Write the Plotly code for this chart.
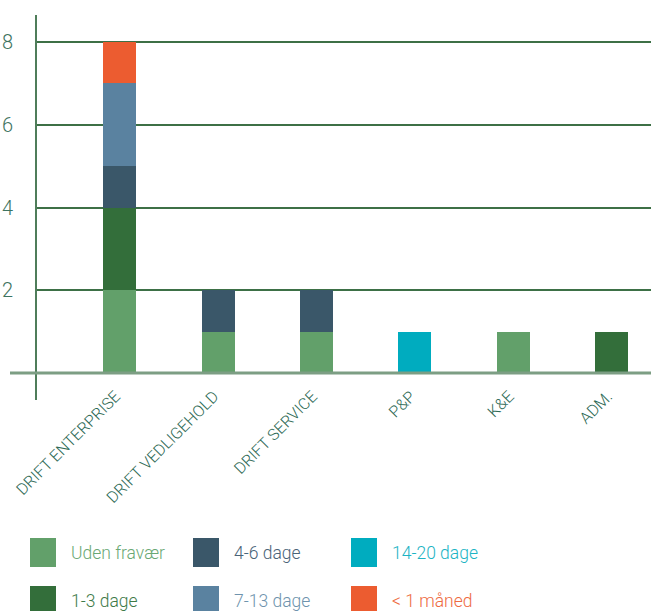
import plotly.graph_objects as go

categories = ["DRIFT ENTERPRISE", "DRIFT VEDLIGEHOLD", "DRIFT SERVICE", "P&P", "K&E", "ADM."]
series_names = ["Uden fravær", "1-3 dage", "4-6 dage", "7-13 dage", "14-20 dage", "< 1 måned"]
uden_fravaer = [2, 1, 1, 0, 1, 0]
dage_1_3 = [2, 0, 0, 0, 0, 1]
dage_4_6 = [1, 1, 1, 0, 0, 0]
dage_7_13 = [2, 0, 0, 0, 0, 0]
dage_14_20 = [0, 0, 0, 1, 0, 0]
under_1_maaned = [1, 0, 0, 0, 0, 0]
y_ticks = [2, 4, 6, 8]

series_values = [uden_fravaer, dage_1_3, dage_4_6, dage_7_13, dage_14_20, under_1_maaned]
colors = ["#62a06a", "#336e3a", "#3a5769", "#5a82a0", "#00acbf", "#ec5c30"]
text_colors = ["#6aa874", "#3e7a48", "#4a6378", "#6e93ad", "#1cb4c4", "#ee6a42"]

W, H = 651, 611
L, R, T, B = 37, 0, 15, 211
pw, ph = W - L - R, H - T - B

def px_x(x):
    return (x - L) / pw

def px_y(y):
    return (H - B - y) / ph

FONT = "Roboto, Lato, sans-serif"

fig = go.Figure()
for name, vals, col in zip(series_names, series_values, colors):
    fig.add_trace(go.Bar(
        x=categories, y=vals, name=name, marker=dict(color=col, line=dict(width=0)),
        width=0.335, showlegend=False,
    ))

shapes = []
annotations = []
# zero line extending beyond the axis
shapes.append(dict(type="line", xref="paper", yref="y", x0=px_x(10), x1=1, y0=0, y1=0,
                   line=dict(color="#7d9e84", width=3), layer="above"))

# manual legend (2 rows x 3 columns)
legend_order = [0, 2, 4, 1, 3, 5]
col_sq_x = [30, 193, 351]
col_tx_x = [69, 232, 390]
row_sq_y = [538, 586]
for k, idx in enumerate(legend_order):
    r, c = divmod(k, 3)
    x0 = col_sq_x[c]
    y0 = row_sq_y[r]
    shapes.append(dict(type="rect", xref="paper", yref="paper",
                       x0=px_x(x0), x1=px_x(x0 + 26), y0=px_y(y0), y1=px_y(y0 + 29),
                       fillcolor=colors[idx], line=dict(width=0)))
    annotations.append(dict(xref="paper", yref="paper", x=px_x(col_tx_x[c]), y=px_y(y0 + 14.5),
                            xanchor="left", yanchor="middle", showarrow=False,
                            text=series_names[idx],
                            font=dict(family=FONT, size=17.5, weight=300, color=text_colors[idx])))

fig.update_layout(
    template="none",
    barmode="stack",
    width=W, height=H,
    margin=dict(l=L, r=R, t=T, b=B, pad=0, autoexpand=False),
    paper_bgcolor="white", plot_bgcolor="white",
    bargap=0,
    shapes=shapes, annotations=annotations,
    showlegend=False,
    xaxis=dict(type="category", range=[-0.84, 5.40], showgrid=False, showline=False,
               zeroline=False, tickangle=-45, ticks="", automargin=False,
               ticklabelstandoff=-17, ticklabelshift=-4,
               tickfont=dict(family=FONT, size=16, weight=300, color="#2e6a55")),
    yaxis=dict(range=[-0.65, 8.65], tickvals=y_ticks, showgrid=True,
               gridcolor="#3d7046", gridwidth=1.5, zeroline=False,
               showline=True, linecolor="#4f7d5a", linewidth=2,
               ticks="", ticklabelstandoff=18, automargin=False,
               tickfont=dict(family=FONT, size=20, weight=300, color="#3d7360")),
)

fig.write_html("out.html", config={"displayModeBar": False},
               post_script="document.body.style.margin='0';document.body.style.overflow='hidden';")
